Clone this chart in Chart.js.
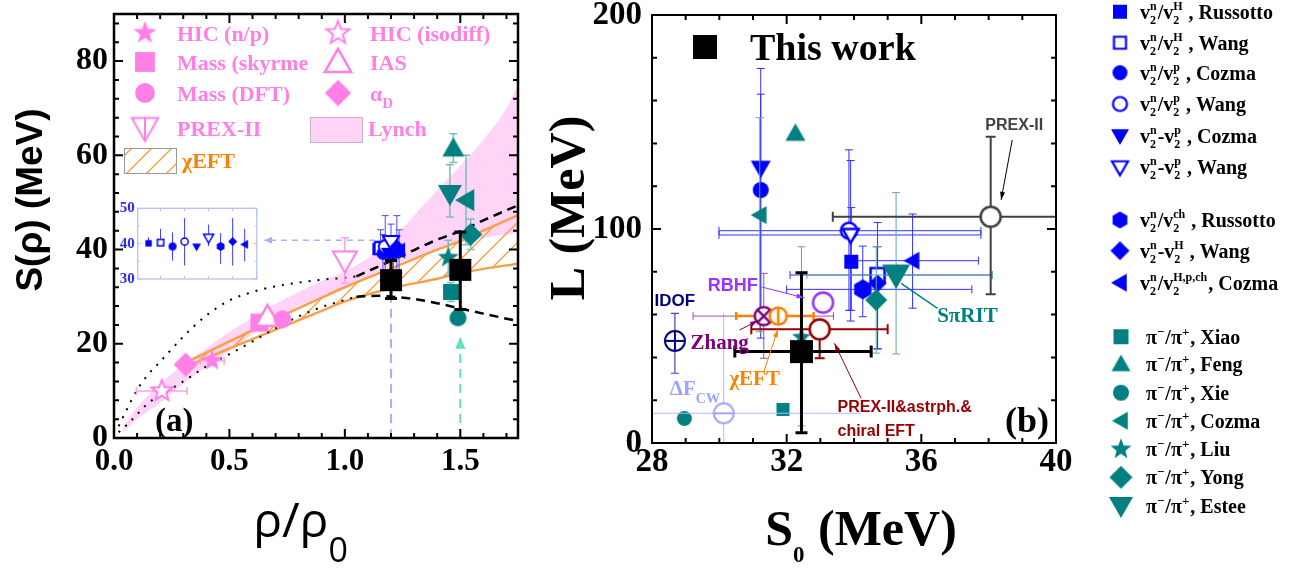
<!DOCTYPE html>
<html>
<head>
<meta charset="utf-8">
<title>Symmetry energy constraints</title>
<script src="https://cdn.jsdelivr.net/npm/chart.js@4.4.1/dist/chart.umd.min.js"></script>
<style>
  html, body { margin: 0; padding: 0; background: #fff; }
  #wrap { position: relative; width: 1298px; height: 572px; overflow: hidden; }
  canvas { position: absolute; }
</style>
</head>
<body>
<div id="wrap">
  <canvas id="chartA" width="540" height="572" style="left:0;top:0"></canvas>
  <canvas id="chartB" width="758" height="572" style="left:540px;top:0"></canvas>
  <canvas id="inset" width="160" height="90" style="left:100px;top:198px"></canvas>
</div>
<script>
// ---------- panel (a): S(rho) against rho/rho0 ----------
const rhoTicks = [0.0, 0.5, 1.0, 1.5];
const symTicks = [0, 20, 40, 60, 80];

const pinkNames = ['HIC (n/p)', 'HIC (isodiff)', 'Mass (skyrme', 'IAS', 'Mass (DFT)', 'α_D', 'PREX-II'];
const pinkRho   = [0.425, 0.207, 0.63, 0.665, 0.73, 0.31, 1.0];
const pinkSym   = [16.4, 10.0, 24.5, 25.7, 25.2, 15.6, 37.7];
const pinkRhoLo = [0.373, 0.097, null, null, null, null, null];
const pinkRhoHi = [0.477, 0.317, null, null, null, null, null];
const pinkSymLo = [15.4, null, null, null, null, null, 32.9];
const pinkSymHi = [17.4, null, null, null, null, null, 42.5];

// elliptic flow points (main panel cluster + inset)
const flowRho   = [1.145, 1.155, 1.165, 1.175, 1.19, 1.2, 1.21, 1.225, 1.235];
const flowSym   = [40.1, 40.3, 39.2, 40.6, 39.1, 41.6, 39.2, 40.6, 39.8];
const flowSymLo = [null, null, 35.2, 33.8, 38.4, 39.3, 34.3, 33.8, 35.0];
const flowSymHi = [41.8, 44.2, 43.2, 47.2, 39.8, 45.4, 43.0, 47.2, 44.2];
const insetIdx  = [1, 2, 3, 4, 5, 6, 7, 8, 9];
const insetTicks = [30, 40, 50];

// pion ratio points, order: Xiao, Feng, Xie, Cozma, Liu, Yong, Estee
const pionRhoA   = [1.46, 1.47, 1.49, 1.525, 1.448, 1.545, 1.455];
const pionSymA   = [31.0, 61.5, 25.5, 50.5, 38.3, 43.2, 51.8];
const pionSymLoA = [29.0, 58.5, null, 41.0, 34.5, 40.0, 46.9];
const pionSymHiA = [33.0, 64.6, null, 60.0, 42.0, 46.5, 58.0];

const thisRho   = [1.2, 1.5];
const thisSym   = [33.5, 35.7];
const thisSymLo = [29.6, 27.3];
const thisSymHi = [37.7, 43.7];

// bands and curves
const lynchRho = [0.04, 0.1, 0.2, 0.3, 0.4, 0.5, 0.6, 0.7, 0.8, 0.9, 1.0, 1.1, 1.2, 1.3, 1.4, 1.5, 1.6, 1.7, 1.75];
const lynchHi  = [2.5, 6.5, 11.5, 15.5, 19, 22.5, 25.5, 28.5, 31, 33.3, 35.3, 38.2, 42, 47.3, 52.6, 57.8, 63.3, 70, 75];
const lynchLo  = [1.2, 4, 7.5, 11.5, 15, 18.5, 22, 25, 28, 30, 32, 34.2, 36.5, 38.3, 40, 41.5, 42.5, 43.2, 43.5];

const eftRho = [0.33, 0.5, 0.7, 0.9, 1.0, 1.2, 1.4, 1.5, 1.6, 1.75];
const eftHi  = [16.5, 20.5, 25.3, 29.8, 32, 36, 40, 41.8, 44, 47.3];
const eftLo  = [15.5, 19, 23, 27, 29, 31.8, 33.8, 35, 35.9, 37];

const dashRho = [1.05, 1.15, 1.2, 1.3, 1.4, 1.5, 1.6, 1.75];
const dashHi  = [34.3, 36.5, 37.6, 39.9, 42.1, 43.9, 46.2, 49.4];
const dashLo  = [30.0, 30.2, 30.0, 29.5, 28.6, 27.5, 26.4, 24.8];

const dotRho = [0.02, 0.05, 0.1, 0.15, 0.2, 0.3, 0.4, 0.5, 0.6, 0.7, 0.8, 0.9, 1.0, 1.05];
const dotHi  = [2.5, 5.5, 10.2, 13.6, 16.2, 21.5, 26, 29.2, 31, 32.2, 33, 33.6, 34, 34.3];
const dotLo  = [1.2, 2.5, 5, 7.5, 9, 12, 15.2, 17.8, 20.5, 23.3, 25.8, 27.8, 29.3, 30];

const vBlueRho = [1.2, 1.2],  vBlueSym = [0, 29.5];
const vTealRho = [1.5, 1.5],  vTealSym = [0, 21.5];
const hArrowRho = [1.13, 0.65], hArrowSym = [42, 42];

// ---------- panel (b): L against S0 ----------
const s0Ticks = [28, 32, 36, 40];
const lTicks  = [0, 100, 200];

const flowOp  = ['/', '/', '/', '/', '-', '-', '/', '-', '/'];
const flowDen = ['H', 'H', 'p', 'p', 'p', 'p', 'ch', 'H', 'H,p,ch'];
const flowRef = ['Russotto', 'Wang', 'Cozma', 'Wang', 'Cozma', 'Wang', 'Russotto', 'Wang', 'Cozma'];
const flowS0   = [33.92, 34.7, 31.23, 33.85, 31.23, 33.9, 34.26, 34.7, 35.74];
const flowL    = [84.7, 78.5, 118.2, 99.2, 128.4, 97.2, 71.8, 74.6, 85.2];
const flowS0Lo = [null, 32.1, null, 29.99, null, 29.99, 32.0, null, 33.9];
const flowS0Hi = [null, 38.1, null, 37.77, null, 37.77, 37.5, null, 37.7];
const flowLLo  = [62, 44, 49, 62, 60, 57, 59, 44, 63];
const flowLHi  = [110, 91.7, 163, 137, 175, 132, 92, 103, 107];

const pionRef  = ['Xiao', 'Feng', 'Xie', 'Cozma', 'Liu', 'Yong', 'Estee'];
const pionS0   = [31.89, 32.26, 28.96, 31.2, 32.44, 34.66, 35.25];
const pionL    = [15.7, 144.7, 11.5, 106.5, 49.4, 66.8, 78.5];
const pionS0Lo = [null, null, null, null, null, null, 32.6];
const pionS0Hi = [null, null, null, null, null, null, 38.1];
const pionLLo  = [null, null, null, 52, 8, 42, 41.6];
const pionLHi  = [null, null, null, 152, 91.7, 91.7, 117];

const otherNames = ['IDOF', 'ΔF_CW', 'Zhang', 'χEFT', 'RBHF', 'PREX-II&astrph.&chiral EFT', 'PREX-II'];
const otherS0   = [28.68, 30.13, 31.32, 31.75, 33.08, 32.98, 38.06];
const otherL    = [47.7, 13.9, 59.3, 59.3, 65.6, 53.1, 105.7];
const otherS0Lo = [null, 28.0, 29.22, 30.5, null, 30.95, 33.37];
const otherS0Hi = [null, 34.2, 33.39, 32.8, null, 35.0, 42.8];
const otherLLo  = [32.6, 0, 39.6, 56.5, 61.2, 39.6, 69.5];
const otherLHi  = [60.6, 60.6, 79.3, 62, 70, null, 143.1];

const thisS0 = [32.44], thisL = [42.7];
const thisS0Lo = [30.46], thisS0Hi = [34.51];
const thisLLo = [4.8], thisLHi = [79.6];

// ---------- styling ----------
const PINK = '#ff7fe6', TEAL = '#008080', BLUE = '#0000ff', ORANGE = '#f7a046';
const SERIF = '"Liberation Serif"', SANS = '"Liberation Sans"';

function mk(shape, r, fill, stroke, lw) {
  lw = lw || 0;
  const s = Math.ceil(2 * r + 2 * lw + 4);
  const c = document.createElement('canvas');
  c.width = s; c.height = s;
  const g = c.getContext('2d');
  g.translate(s / 2, s / 2);
  g.beginPath();
  const poly = pts => { pts.forEach(([px, py], k) => k ? g.lineTo(px, py) : g.moveTo(px, py)); g.closePath(); };
  switch (shape) {
    case 'square': g.rect(-r, -r, 2 * r, 2 * r); break;
    case 'up': poly([[0, -r], [r, 0.75 * r], [-r, 0.75 * r]]); break;
    case 'down': poly([[0, r], [r, -0.75 * r], [-r, -0.75 * r]]); break;
    case 'left': poly([[-r, 0], [0.75 * r, -r], [0.75 * r, r]]); break;
    case 'diamond': poly([[0, -r], [r, 0], [0, r], [-r, 0]]); break;
    case 'hex': poly([0, 1, 2, 3, 4, 5].map(k => [r * Math.cos(-Math.PI / 2 + k * Math.PI / 3), r * Math.sin(-Math.PI / 2 + k * Math.PI / 3)])); break;
    case 'star': poly(Array.from({length: 10}, (_, k) => {
      const rr = k % 2 ? 0.42 * r : r, a = -Math.PI / 2 + k * Math.PI / 5;
      return [rr * Math.cos(a), rr * Math.sin(a)];
    })); break;
    default: g.arc(0, 0, r, 0, 2 * Math.PI);
  }
  if (fill) { g.fillStyle = fill; g.fill(); }
  if (lw) { g.lineWidth = lw; g.strokeStyle = stroke; g.stroke(); }
  if (shape.startsWith('circle') && shape !== 'circle') {
    g.beginPath();
    if (shape === 'circlePlus' || shape === 'circleV') { g.moveTo(0, -r); g.lineTo(0, r); }
    if (shape === 'circlePlus' || shape === 'circleH') { g.moveTo(-r, 0); g.lineTo(r, 0); }
    if (shape === 'circleX') { const d = r * 0.707; g.moveTo(-d, -d); g.lineTo(d, d); g.moveTo(d, -d); g.lineTo(-d, d); }
    g.stroke();
  }
  return c;
}

const flowShape = ['square', 'square', 'circle', 'circle', 'down', 'down', 'hex', 'diamond', 'left'];
const flowOpen  = [false, true, false, true, false, true, false, false, false];
const flowMk = (rs, lw) => flowShape.map((s, i) => flowOpen[i] ? mk(s, rs[i], '#fff', BLUE, lw) : mk(s, rs[i], BLUE));
const pionShape = ['square', 'up', 'circle', 'left', 'star', 'diamond', 'down'];
const pionMk = rs => pionShape.map((s, i) => mk(s, rs[i], TEAL));
const pinkMk = k => [mk('star', 11 * k, PINK), mk('star', 11 * k, '#fff', PINK, 2), mk('square', 9 * k, PINK),
  mk('up', 12 * k, '#fff', PINK, 2.5), mk('circle', 9 * k, PINK), mk('diamond', 12 * k, PINK), mk('down', 12 * k, '#fff', PINK, 2)];
const otherMk = [mk('circlePlus', 10, '#fff', '#000080', 2), mk('circleH', 10, '#fff', '#9da4ff', 2), mk('circleX', 9, '#fff', '#800080', 2.5),
  mk('circleV', 8.5, '#fff', '#ff8000', 2.5), mk('circle', 10, '#fff', '#9933ff', 2.5), mk('circle', 10, '#fff', '#990000', 2.5),
  mk('circle', 10, '#fff', '#404040', 2.5)];

// rich text: strings, or {sup, sub} stacked pieces
function splitName(s) {
  const k = s.indexOf('_');
  return k < 0 ? [s] : [s.slice(0, k), {sub: s.slice(k + 1)}];
}
function rich(ctx, x, y, parts, o) {
  let cx = x;
  ctx.fillStyle = o.color; ctx.textAlign = 'left'; ctx.textBaseline = 'alphabetic';
  for (const p of parts) {
    if (typeof p === 'string') {
      ctx.font = o.font;
      if (o.draw !== false) ctx.fillText(p, cx, y);
      cx += ctx.measureText(p).width;
    } else {
      ctx.font = o.small;
      let w = 0;
      if (p.sup != null) { if (o.draw !== false) ctx.fillText(p.sup, cx, y + o.sup); w = Math.max(w, ctx.measureText(p.sup).width); }
      if (p.sub != null) { if (o.draw !== false) ctx.fillText(p.sub, cx, y + o.sub); w = Math.max(w, ctx.measureText(p.sub).width); }
      cx += w + 1;
    }
  }
  return cx - x;
}
function richCentered(ctx, cx, y, parts, o) {
  const w = rich(ctx, 0, 0, parts, Object.assign({}, o, {draw: false}));
  rich(ctx, cx - w / 2, y, parts, o);
}
function head(ctx, x1, y1, x2, y2, len, wid, color) {
  const a = Math.atan2(y2 - y1, x2 - x1);
  ctx.save(); ctx.translate(x2, y2); ctx.rotate(a);
  ctx.fillStyle = color; ctx.beginPath();
  ctx.moveTo(0, 0); ctx.lineTo(-len, -wid / 2); ctx.lineTo(-len, wid / 2); ctx.closePath(); ctx.fill();
  ctx.restore();
}

// ---------- shared plugins ----------
const errorPlugin = {
  id: 'errbars',
  beforeDatasetDraw(chart, args) {
    const ds = chart.data.datasets[args.index];
    const e = ds.err;
    if (!e) return;
    const {ctx, chartArea: a, scales: {x, y}} = chart;
    const pick = (v, i) => Array.isArray(v) ? v[i] : v;
    ctx.save();
    ctx.beginPath(); ctx.rect(a.left, a.top, a.right - a.left, a.bottom - a.top); ctx.clip();
    ds.data.forEach((p, i) => {
      const px = x.getPixelForValue(p.x), py = y.getPixelForValue(p.y);
      const c = pick(e.cap, i) / 2;
      ctx.strokeStyle = pick(e.color, i);
      ctx.lineWidth = pick(e.width, i);
      ctx.beginPath();
      [e.yLo, e.yHi].forEach(arr => {
        if (!arr || arr[i] == null) return;
        const q = y.getPixelForValue(arr[i]);
        ctx.moveTo(px, py); ctx.lineTo(px, q);
        if (c) { ctx.moveTo(px - c, q); ctx.lineTo(px + c, q); }
      });
      [e.xLo, e.xHi].forEach(arr => {
        if (!arr || arr[i] == null) return;
        const q = x.getPixelForValue(arr[i]);
        ctx.moveTo(px, py); ctx.lineTo(q, py);
        if (c) { ctx.moveTo(q, py - c); ctx.lineTo(q, py + c); }
      });
      ctx.stroke();
    });
    ctx.restore();
  }
};

const framePlugin = {
  id: 'frame',
  afterDatasetsDraw(chart, args, o) {
    if (!o || !o.xMinor) return;
    const {ctx, chartArea: a, scales: {x, y}} = chart;
    const isMajor = (v, m) => Math.abs(v / m - Math.round(v / m)) < 1e-6;
    ctx.save();
    ctx.strokeStyle = o.color;
    ctx.lineWidth = o.tickWidth;
    ctx.beginPath();
    const x0 = o.xFrom != null ? o.xFrom : x.min;
    for (let i = 0; x0 + i * o.xMinor <= x.max + 1e-9; i++) {
      const v = x0 + i * o.xMinor, px = x.getPixelForValue(v);
      const len = isMajor(v, o.xMajor) ? o.major : o.minor;
      ctx.moveTo(px, a.bottom); ctx.lineTo(px, a.bottom - len);
      ctx.moveTo(px, a.top); ctx.lineTo(px, a.top + len);
    }
    for (let i = 0; y.min + i * o.yMinor <= y.max + 1e-9; i++) {
      const v = y.min + i * o.yMinor, py = y.getPixelForValue(v);
      const len = isMajor(v, o.yMajor) ? o.major : o.minor;
      ctx.moveTo(a.left, py); ctx.lineTo(a.left + len, py);
      ctx.moveTo(a.right, py); ctx.lineTo(a.right - len, py);
    }
    ctx.stroke();
    ctx.lineWidth = o.frameWidth;
    ctx.strokeRect(a.left, a.top, a.right - a.left, a.bottom - a.top);
    ctx.restore();
  }
};

function axis(min, max, ticks, fmt, size, pad, fit, horiz, color) {
  return {
    type: 'linear', min, max,
    grid: {display: false, drawTicks: false},
    border: {display: false},
    ticks: {color: color || '#000', padding: pad, maxRotation: 0, autoSkip: false, callback: fmt,
      font: {family: 'Liberation Serif', weight: 'bold', size, lineHeight: 1}},
    afterBuildTicks: s => { s.ticks = ticks.map(v => ({value: v})); },
    afterFit: s => {
      if (horiz) s.height = fit; else s.width = fit;
      s.paddingTop = s.paddingBottom = s.paddingLeft = s.paddingRight = 0;
    }
  };
}
function baseOptions(xs, ys, pad, frame) {
  return {
    responsive: false, animation: false, devicePixelRatio: 1, events: [],
    layout: {padding: pad, autoPadding: false},
    plugins: {legend: {display: false}, tooltip: {enabled: false}, frame},
    scales: {x: xs, y: ys}
  };
}
const pts = (xs, ys) => xs.map((x, i) => ({x, y: ys[i]}));
function curve(xs, ys, color, width, dash, extra) {
  return Object.assign({type: 'line', data: pts(xs, ys), borderColor: color, borderWidth: width, borderDash: dash || [],
    pointRadius: 0, cubicInterpolationMode: 'monotone', fill: false}, extra || {});
}
function marks(xs, ys, styles, err) {
  return {type: 'scatter', data: pts(xs, ys), pointStyle: styles, pointRadius: 5, err};
}

// ---------- chart (a) ----------
const ctxA = document.getElementById('chartA').getContext('2d');
const tile = document.createElement('canvas');
tile.width = tile.height = 20;
(function () {
  const g = tile.getContext('2d');
  g.strokeStyle = ORANGE; g.lineWidth = 1.4;
  g.beginPath(); g.moveTo(0, 20); g.lineTo(20, 0); g.moveTo(-5, 5); g.lineTo(5, -5); g.moveTo(15, 25); g.lineTo(25, 15); g.stroke();
})();
const hatch = ctxA.createPattern(tile, 'repeat');

const decorA = {
  id: 'decorA',
  afterDraw(chart) {
    const {ctx, scales: {x, y}} = chart;
    ctx.save();
    head(ctx, x.getPixelForValue(vTealRho[0]), y.getPixelForValue(vTealSym[0]),
      x.getPixelForValue(vTealRho[1]), y.getPixelForValue(vTealSym[1]), 12, 10, '#5fe0bf');
    head(ctx, x.getPixelForValue(hArrowRho[0]), y.getPixelForValue(hArrowSym[0]),
      x.getPixelForValue(hArrowRho[1]), y.getPixelForValue(hArrowSym[1]), 8, 7, '#a9b0f5');

    // legend
    const big = pinkMk(1.1);
    const slots = [[145, 33], [338, 33], [145, 62], [338, 62], [145, 93], [338, 93], [145, 128]];
    const lf = {font: `bold 22px ${SERIF}`, small: `bold 15px ${SERIF}`, sub: 7, color: PINK};
    slots.forEach(([mx, my], i) => {
      const m = big[i];
      ctx.drawImage(m, mx - m.width / 2, my - m.height / 2);
      rich(ctx, mx + 32, my + 8, splitName(pinkNames[i]), lf);
    });
    ctx.strokeStyle = PINK; ctx.lineWidth = 2;
    ctx.beginPath(); ctx.moveTo(145, 117); ctx.lineTo(145, 141); ctx.stroke();
    ctx.fillStyle = '#ffd4f7'; ctx.fillRect(310, 117, 52, 25);
    ctx.strokeStyle = '#c9b0c6'; ctx.lineWidth = 1; ctx.strokeRect(310.5, 117.5, 52, 25);
    rich(ctx, 368, 136, ['Lynch'], lf);
    ctx.fillStyle = hatch; ctx.fillRect(124, 148, 52, 25);
    ctx.strokeStyle = '#999'; ctx.strokeRect(124.5, 148.5, 52, 25);
    rich(ctx, 182, 168, ['χEFT'], Object.assign({}, lf, {color: '#ff8000'}));

    rich(ctx, 155, 431, ['(a)'], {font: `bold 33px ${SERIF}`, color: '#000'});

    // axis titles
    ctx.save(); ctx.translate(42, 200); ctx.rotate(-Math.PI / 2);
    richCentered(ctx, 0, 0, ['S(ρ) (MeV)'], {font: `bold 37px ${SANS}`, color: '#000'});
    ctx.restore();
    richCentered(ctx, 301, 537, ['ρ/ρ', {sub: '0'}], {font: '48px "Open Sans"', small: '34px "Open Sans"', sub: 25, color: '#000'});
    ctx.restore();
  }
};

new Chart(ctxA, {
  type: 'scatter',
  data: {
    datasets: [
      marks(thisRho, thisSym, mk('square', 11, '#000'), {yLo: thisSymLo, yHi: thisSymHi, color: '#000', width: 3, cap: 12}),
      marks(pionRhoA, pionSymA, pionMk([8, 11, 8.5, 11, 11, 11.5, 12]), {yLo: pionSymLoA, yHi: pionSymHiA, color: '#7cbcbc', width: 1.5, cap: 8}),
      marks(flowRho, flowSym, flowMk([6, 6, 6.5, 6.5, 8, 8, 7, 7.5, 8], 2), {yLo: flowSymLo, yHi: flowSymHi, color: '#4a4aff', width: 1, cap: 7}),
      marks(pinkRho, pinkSym, pinkMk(1), {xLo: pinkRhoLo, xHi: pinkRhoHi, yLo: pinkSymLo, yHi: pinkSymHi, color: '#ff9fec', width: 1.5, cap: 8}),
      curve(dashRho, dashHi, '#000', 2.5, [9, 6]),
      curve(dashRho, dashLo, '#000', 2.5, [9, 6]),
      curve(dotRho, dotHi, '#000', 2, [2, 7]),
      curve(dotRho, dotLo, '#000', 2, [2, 7]),
      curve(hArrowRho, hArrowSym, '#a9b0f5', 1.5, [6, 5]),
      curve(vBlueRho, vBlueSym, '#a9b0f5', 2, [9, 6]),
      curve(vTealRho, vTealSym, '#5fe0bf', 2, [9, 6]),
      curve(eftRho, eftHi, ORANGE, 2.5, [], {fill: '+1', backgroundColor: hatch}),
      curve(eftRho, eftLo, ORANGE, 2.5),
      curve(lynchRho, lynchHi, 'rgba(0,0,0,0)', 0, [], {fill: '+1', backgroundColor: '#ffd4f7'}),
      curve(lynchRho, lynchLo, 'rgba(0,0,0,0)', 0)
    ]
  },
  options: baseOptions(
    axis(0, 1.75, rhoTicks, v => v.toFixed(1), 31, 8, 134, true),
    axis(0, 90, symTicks, v => v, 32, 6, 114, false),
    {left: 0, right: 22, top: 14, bottom: 0},
    {xMinor: 0.1, xMajor: 0.5, yMinor: 4, yMajor: 20, major: 9, minor: 5, tickWidth: 2, frameWidth: 2.5, color: '#000'}
  ),
  plugins: [errorPlugin, framePlugin, decorA]
});

// ---------- inset of panel (a) ----------
const insetOpts = baseOptions(
  {type: 'linear', min: 0.1, max: 10, display: false},
  axis(30, 50, insetTicks, v => v, 15, 3, 37.7, false, '#2a2aff'),
  {left: 0, right: 3.3, top: 10.3, bottom: 9},
  {xMinor: 2, xMajor: 2, xFrom: 2, yMinor: 5, yMajor: 10, major: 3, minor: 2, tickWidth: 1, frameWidth: 1.2, color: '#b3bbff'}
);
new Chart(document.getElementById('inset'), {
  type: 'scatter',
  data: {
    datasets: [
      marks(insetIdx, flowSym, flowMk([3.2, 3.2, 4, 3.6, 4.5, 5, 4.5, 4.5, 4.5], 1.5), {yLo: flowSymLo, yHi: flowSymHi, color: '#3a3aff', width: 1, cap: 0})
    ]
  },
  options: insetOpts,
  plugins: [errorPlugin, framePlugin]
});

// ---------- chart (b) ----------
const BX = 540;
const notesB = [
  {parts: ['PREX-II'], x: 38.76, y: 149, font: `bold 16px ${SANS}`, color: '#404040', center: true},
  {parts: ['RBHF'], x: 30.4, y: 73.8, font: `bold 18px ${SANS}`, color: '#9933ff', center: true},
  {parts: ['IDOF'], x: 28.68, y: 66.8, font: `bold 17px ${SANS}`, color: '#000080', center: true},
  {parts: ['Zhang'], x: 30.01, y: 47.2, font: `bold 21px ${SERIF}`, color: '#800080', center: true},
  {parts: ['χEFT'], x: 31.05, y: 30.4, font: `bold 21px ${SERIF}`, color: '#ff8000', center: true},
  {parts: splitName(otherNames[1]), x: 28.53, y: 26, font: `bold 21px ${SERIF}`, small: `bold 14px ${SERIF}`, sub: 8, color: '#9da4ff'},
  {parts: ['PREX-II&astrph.&'], x: 33.51, y: 17, font: `bold 16px ${SANS}`, color: '#990000'},
  {parts: ['chiral EFT'], x: 33.51, y: 6.1, font: `bold 16px ${SANS}`, color: '#990000'},
  {parts: ['SπRIT'], x: 36.47, y: 59.8, font: `bold 21px ${SERIF}`, color: TEAL}
];
const arrowsB = [
  {from: [38.7, 141.6], to: [38.37, 113.6], color: '#000', head: 8},
  {from: [31.26, 72.9], to: [32.53, 67.8], color: '#9933ff', head: 8},
  {from: [30.6, 52.8], to: [31.15, 57.2], color: '#800080', head: 8},
  {from: [31.32, 33.3], to: [31.74, 53.1], color: '#ff8000', head: 8},
  {from: [34.21, 20.9], to: [33.42, 46.6], color: '#990000', head: 8},
  {from: [36.48, 62.9], to: [35.4, 74.6], color: TEAL, head: 0}
];
const flowRowsY = [11.7, 42.7, 72.7, 104, 136, 167.3, 220, 250.7, 282.7];
const pionRowsY = [336.7, 364, 392.7, 420.7, 449.3, 477.3, 506];

const decorB = {
  id: 'decorB',
  afterDraw(chart) {
    const {ctx, scales: {x, y}} = chart;
    ctx.save();
    arrowsB.forEach(a => {
      const x1 = x.getPixelForValue(a.from[0]), y1 = y.getPixelForValue(a.from[1]);
      const x2 = x.getPixelForValue(a.to[0]), y2 = y.getPixelForValue(a.to[1]);
      ctx.strokeStyle = a.color; ctx.lineWidth = a.head ? 1 : 1.5;
      ctx.beginPath(); ctx.moveTo(x1, y1); ctx.lineTo(x2, y2); ctx.stroke();
      if (a.head) head(ctx, x1, y1, x2, y2, a.head, 5, a.color);
    });
    notesB.forEach(n => {
      const size = parseInt(n.font.match(/(\d+)px/)[1], 10);
      const px = x.getPixelForValue(n.x), py = y.getPixelForValue(n.y) + size * 0.35;
      const o = {font: n.font, small: n.small, sub: n.sub, color: n.color};
      if (n.center) richCentered(ctx, px, py, n.parts, o); else rich(ctx, px, py, n.parts, o);
    });

    // "This work"
    const sq = mk('square', 12, '#000');
    ctx.drawImage(sq, 705 - BX - sq.width / 2, 47 - sq.height / 2);
    rich(ctx, 750 - BX, 60, ['This work'], {font: `bold 38px ${SERIF}`, color: '#000'});
    rich(ctx, 1005 - BX, 432, ['(b)'], {font: `bold 36px ${SERIF}`, color: '#000'});

    // side legend
    const lf = {font: `bold 20px ${SERIF}`, small: `bold 12px ${SERIF}`, sup: -9, sub: 5, color: '#000'};
    const fm = flowMk([7, 6, 7.5, 7, 9, 8, 8.5, 9.5, 9], 2.2);
    flowRowsY.forEach((ry, i) => {
      ctx.drawImage(fm[i], 1120 - BX - fm[i].width / 2, ry - fm[i].height / 2);
      const sep = flowDen[i].length > 2 ? ', ' : ' , ';
      rich(ctx, 1140 - BX, ry + 7, ['v', {sup: 'n', sub: '2'}, flowOp[i] + 'v', {sup: flowDen[i], sub: '2'}, sep + flowRef[i]], lf);
    });
    const pm = pionMk([7.5, 9.5, 8, 9, 11, 11.5, 12]);
    pionRowsY.forEach((ry, i) => {
      ctx.drawImage(pm[i], 1121 - BX - pm[i].width / 2, ry - pm[i].height / 2);
      rich(ctx, 1146 - BX, ry + 7, ['π', {sup: '−'}, '/π', {sup: '+'}, ', ' + pionRef[i]], Object.assign({}, lf, {small: `bold 13px ${SERIF}`, sup: -8}));
    });

    // axis titles
    ctx.save(); ctx.translate(584 - BX, 208); ctx.rotate(-Math.PI / 2);
    richCentered(ctx, 0, 0, ['L (MeV)'], {font: `bold 50px ${SERIF}`, color: '#000'});
    ctx.restore();
    richCentered(ctx, 861 - BX, 545, ['S', {sub: '0'}, ' (MeV)'], {font: `bold 50px ${SERIF}`, small: `bold 23px ${SERIF}`, sub: 17, color: '#000'});
    ctx.restore();
  }
};

new Chart(document.getElementById('chartB'), {
  type: 'scatter',
  data: {
    datasets: [
      marks(thisS0, thisL, mk('square', 11.5, '#000'), {xLo: thisS0Lo, xHi: thisS0Hi, yLo: thisLLo, yHi: thisLHi, color: '#000', width: 3, cap: 12}),
      marks(otherS0, otherL, otherMk, {xLo: otherS0Lo, xHi: otherS0Hi, yLo: otherLLo, yHi: otherLHi,
        color: ['#4646b4', '#b3b8ff', '#a050a0', '#ff8000', '#9933ff', '#990000', '#404040'],
        width: [1.2, 1, 1, 2.5, 1.5, 2, 2], cap: [8, 0, 8, 8, 8, 10, 10]}),
      marks(pionS0, pionL, pionMk([6.5, 10, 7.5, 9, 10, 11, 14]), {xLo: pionS0Lo, xHi: pionS0Hi, yLo: pionLLo, yHi: pionLHi, color: '#5fa8a8', width: 1, cap: 8}),
      marks(flowS0, flowL, flowMk([7, 7, 8, 8, 10, 8, 10, 9, 9], 2.5), {xLo: flowS0Lo, xHi: flowS0Hi, yLo: flowLLo, yHi: flowLHi, color: '#3030ff', width: 1, cap: 8})
    ]
  },
  options: baseOptions(
    axis(28, 40, s0Ticks, v => v, 33, 3, 129, true),
    axis(0, 200, lTicks, v => v, 33, 10, 112, false),
    {left: 0, right: 242, top: 15, bottom: 0},
    {xMinor: 1, xMajor: 4, yMinor: 20, yMajor: 100, major: 9, minor: 5, tickWidth: 2, frameWidth: 2, color: '#000'}
  ),
  plugins: [errorPlugin, framePlugin, decorB]
});
</script>
</body>
</html>
